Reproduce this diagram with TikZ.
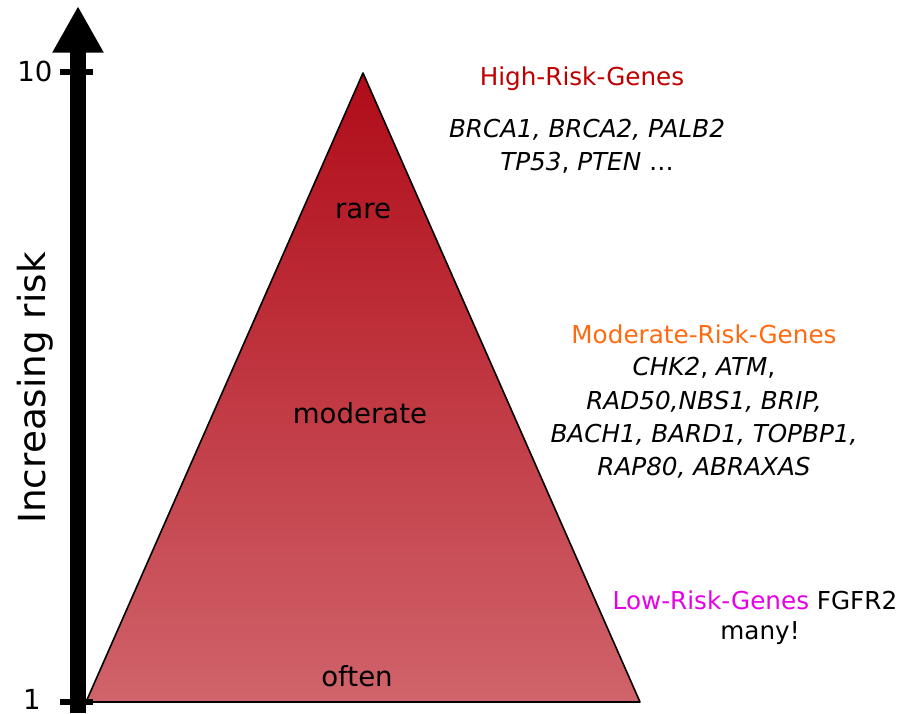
\documentclass[tikz,border=0pt]{standalone}
\usepackage{fontspec}
\setmainfont{DejaVu Sans}
\usepackage{xcolor}
\usepackage{tikz}
\usetikzlibrary{arrows.meta}
\definecolor{RiskTop}{HTML}{B00C18}
\definecolor{RiskBottom}{HTML}{D0636B}
\definecolor{HighRed}{HTML}{C00000}
\definecolor{ModOrange}{HTML}{FF6A10}
\definecolor{LowPink}{HTML}{E600E6}
\tikzset{
  txt/.style={font=\fontsize{18.5}{25}\selectfont,inner sep=0pt,align=center},
  genes/.style={font=\fontsize{18.5}{25}\selectfont\itshape,inner sep=0pt,align=center},
  level/.style={font=\fontsize{20.7}{25}\selectfont,inner sep=0pt},
  axis/.style={line width=12.5pt,-{Triangle[length=35pt,width=36pt]}},
  tick/.style={line width=5pt}
}

\begin{document}
\begin{tikzpicture}[x=0.75pt,y=-0.75pt]
  \useasboundingbox (0,0) rectangle (901,714);
  % pyramid
  \coordinate (apex) at (363,73);
  \coordinate (bl) at (86,702);
  \coordinate (br) at (640,702);
  \shade[top color=RiskTop,bottom color=RiskBottom] (apex) -- (bl) -- (br) -- cycle;
  \draw[line width=1.2pt,line join=round] (apex) -- (bl) -- (br) -- cycle;
  % risk axis
  \coordinate (ybot) at (78,713);
  \coordinate (ytop) at (78,6);
  \draw[axis] (ybot) -- (ytop);
  \coordinate (t10a) at (60,72);
  \coordinate (t10b) at (93,72);
  \coordinate (t1a) at (60,702);
  \coordinate (t1b) at (93,702);
  \draw[tick] (t10a) -- (t10b);
  \draw[tick] (t1a) -- (t1b);
  \node[level] (ten) at (35,71) {10};
  \node[level] (one) at (32,699) {1};
  \node[txt,rotate=90,font=\fontsize{28}{32}\selectfont] (incr) at (35,388) {Increasing risk};
  % inside the pyramid
  \node[level] (rare) at (363,211) {rare};
  \node[level] (moderate) at (360,413) {moderate};
  \node[level] (often) at (357,676) {often};
  % gene groups
  \node[txt,text=HighRed] (high) at (582,79) {High-Risk-Genes};
  \node[genes] (highlist) at (587,146) {BRCA1, BRCA2, PALB2\\TP53\upshape, \itshape PTEN \upshape…};
  \node[txt,text=ModOrange] (mod) at (704,334) {Moderate-Risk-Genes};
  \node[genes] (modlist) at (704,418) {CHK2\upshape, \itshape ATM\upshape,\\RAD50,NBS1, BRIP,\\BACH1, BARD1, TOPBP1,\\RAP80, ABRAXAS};
  \node[txt] (low) at (755,600) {\textcolor{LowPink}{Low-Risk-Genes} FGFR2};
  \node[txt] (many) at (760,633) {many!};
\end{tikzpicture}
\end{document}
